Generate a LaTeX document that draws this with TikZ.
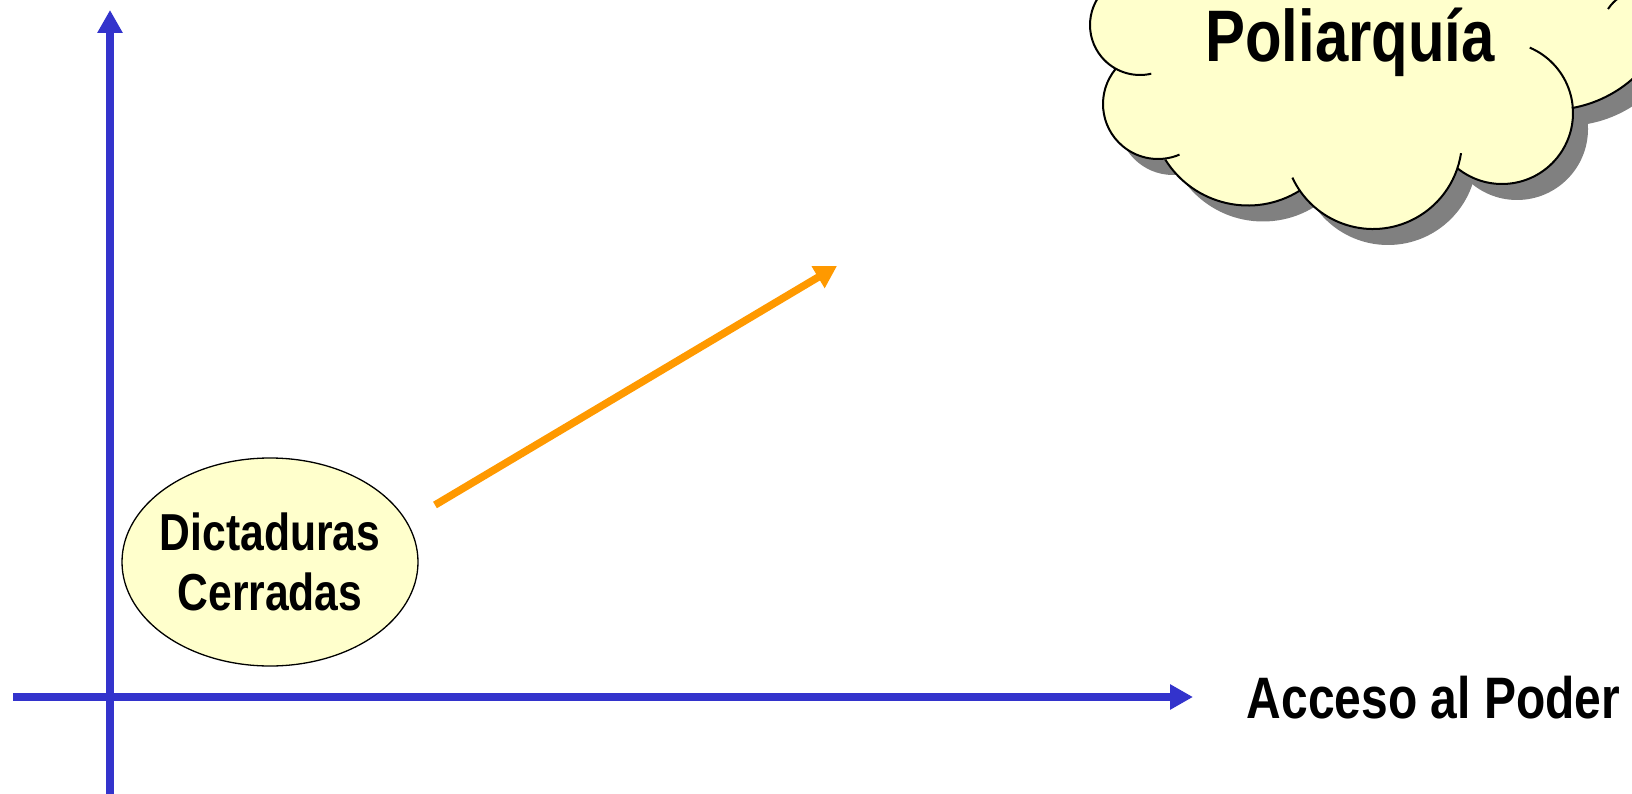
\documentclass[tikz,border=0pt]{standalone}
\usepackage{fontspec}
\setmainfont{Liberation Sans}[FakeStretch=0.82]
\usetikzlibrary{arrows.meta,shapes.geometric}
\definecolor{axisblue}{RGB}{51,51,204}
\definecolor{arroworange}{RGB}{255,153,0}
\definecolor{pale}{RGB}{255,255,204}
\definecolor{shadowgray}{RGB}{128,128,128}
\tikzset{
  axisline/.style={draw=axisblue, line width=7.5pt, -{Triangle[length=23pt,width=24pt]}},
  growth/.style={draw=arroworange, line width=7.5pt, -{Triangle[length=22pt,width=24pt]}},
  bigtext/.style={font=\bfseries\fontsize{#1}{#1}\selectfont, anchor=base, inner sep=0pt},
  regime/.style={ellipse, draw=black, line width=1.3pt, fill=pale, minimum width=296pt,
    minimum height=208pt, inner sep=0pt},
  regimetext/.style={inner sep=0pt, align=center,
    font=\bfseries\fontsize{52}{60}\selectfont},
  cloudline/.style={draw=black, line width=2pt},
}
\begin{document}
\begin{tikzpicture}[x=1pt,y=-1pt]
\useasboundingbox (0,0) rectangle (1632,794);
% axes
\coordinate (yfoot) at (110,794);
\coordinate (ytip) at (110,10);
\coordinate (xfoot) at (13,697);
\coordinate (xtip) at (1193,697);
\draw[axisline] (yfoot) -- (ytip);
\draw[axisline] (xfoot) -- (xtip);
\node[bigtext=58.5] (xlabel) at (1433.5,718) {Acceso al Poder};
% closed dictatorships
\node[regime] (dict) at (270,562) {};
\node[regimetext] (dicttext) at (dict.center) {Dictaduras\\Cerradas};
% growth arrow
\coordinate (gstart) at (435,505);
\coordinate (gend) at (837,266);
\draw[growth] (gstart) -- (gend);
% cloud
\begin{scope}
\clip (0,0) rectangle (1632,794);
\begin{scope}[shift={(15,16)}]
\fill[shadowgray] (1140,25) circle[radius=50];
\fill[shadowgray] (1158,104) circle[radius=55];
\fill[shadowgray] (1248,108) circle[radius=97.5];
\fill[shadowgray] (1373,140) circle[radius=89];
\fill[shadowgray] (1502,113) circle[radius=71];
\fill[shadowgray] (1550,-15) circle[radius=125];
\fill[shadowgray] (1140,-60) -- (1140,25) -- (1158,104) -- (1248,108) -- (1373,140) -- (1502,113) -- (1550,-15) -- (1700,-15) -- (1700,-60) -- cycle;
\end{scope}
\fill[pale] (1140,25) circle[radius=50];
\fill[pale] (1158,104) circle[radius=55];
\fill[pale] (1248,108) circle[radius=97.5];
\fill[pale] (1373,140) circle[radius=89];
\fill[pale] (1502,113) circle[radius=71];
\fill[pale] (1550,-15) circle[radius=125];
\fill[pale] (1140,-60) -- (1140,25) -- (1158,104) -- (1248,108) -- (1373,140) -- (1502,113) -- (1550,-15) -- (1700,-15) -- (1700,-60) -- cycle;
\draw[cloudline] (1140,25) ++(230:50) arc[start angle=230, end angle=77, radius=50];
\draw[cloudline] (1158,104) ++(220:55) arc[start angle=220, end angle=67, radius=55];
\draw[cloudline] (1248,108) ++(148:97.5) arc[start angle=148, end angle=58, radius=97.5];
\draw[cloudline] (1373,140) ++(155:89) arc[start angle=155, end angle=8.5, radius=89];
\draw[cloudline] (1502,113) ++(129:71) arc[start angle=129, end angle=-67, radius=71];
\draw[cloudline] (1550,-15) ++(80:125) arc[start angle=80, end angle=15, radius=125];
\draw[cloudline] (1608,9) to[bend left=10] (1620,-3);
\end{scope}
\node[bigtext=73] (poli) at (1350,62) {Poliarquía};
\end{tikzpicture}
\end{document}
